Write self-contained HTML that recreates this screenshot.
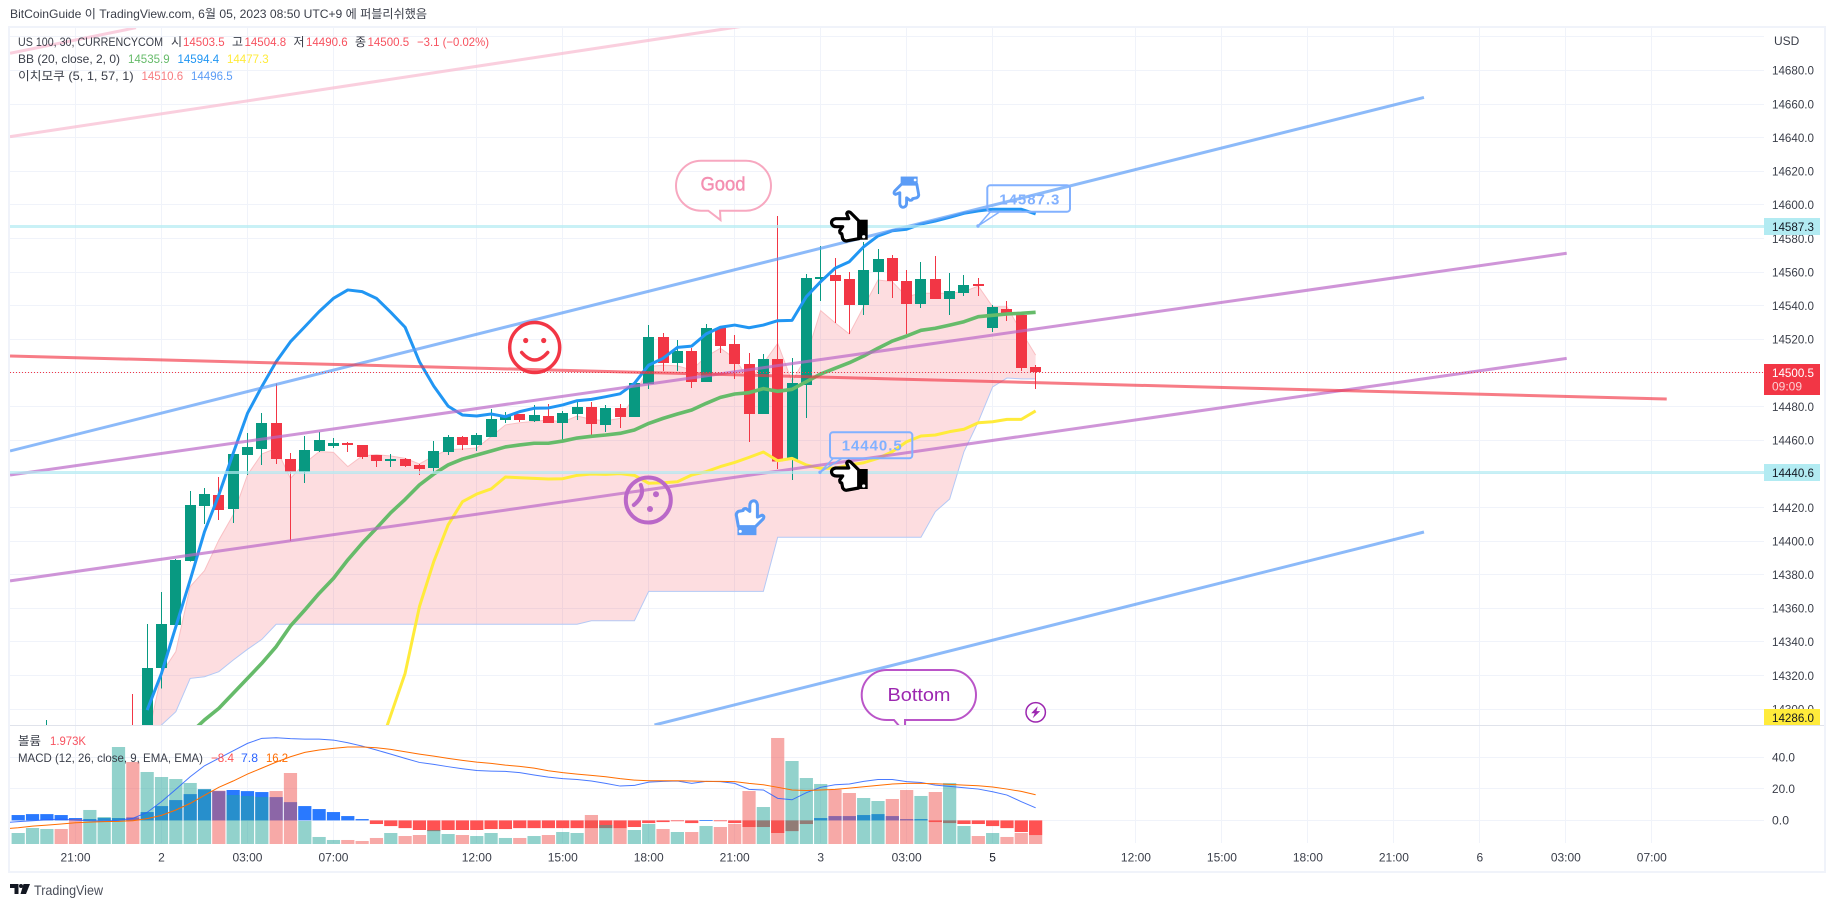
<!DOCTYPE html>
<html lang="ko">
<head>
<meta charset="utf-8">
<title>US 100 30m chart</title>
<style>
html,body{margin:0;padding:0;background:#fff;width:1834px;height:907px;overflow:hidden}
svg{display:block}
text{font-family:"Liberation Sans","Noto Sans CJK KR",sans-serif;font-size:12px;fill:#3a3e49}
</style>
</head>
<body>
<svg id="chart" xmlns="http://www.w3.org/2000/svg" width="1834" height="907" viewBox="0 0 1834 907">
<defs>
<clipPath id="mainClip"><rect x="10" y="28" width="1754" height="697"/></clipPath>
<clipPath id="lowerClip"><rect x="10" y="726" width="1754" height="118"/></clipPath>
</defs>
<rect x="0" y="0" width="1834" height="907" fill="#fff"/>
<text x="10" y="18" textLength="417" lengthAdjust="spacingAndGlyphs">BitCoinGuide 이 TradingView.com, 6월 05, 2023 08:50 UTC+9 에 퍼블리쉬했음</text>
<rect x="9" y="27" width="1816" height="845" fill="none" stroke="#f0f3fa" stroke-width="2"/>
<g id="grid"></g>
<g id="mainLayer" clip-path="url(#mainClip)"></g>
<g id="drawLayer" clip-path="url(#mainClip)"></g>
<g id="annotations" clip-path="url(#mainClip)">
  <path d="M701,160.7 H746 A25,25 0 0 1 746,210.7 H720 L720.5,220 L708.3,210.7 H701 A25,25 0 0 1 701,160.7 Z" fill="none" stroke="#f7a8c0" stroke-width="2"/>
  <text x="723" y="190.5" text-anchor="middle" style="font-size:19px;fill:#f48fb1;stroke:#f48fb1;stroke-width:.4" textLength="45" lengthAdjust="spacingAndGlyphs">Good</text>
  <path d="M886.7,670 H951 A25,25 0 0 1 951,720 H905 V727 H900 L894,720 H886.7 A25,25 0 0 1 886.7,670 Z" fill="none" stroke="#ba55c8" stroke-width="2"/>
  <text x="919" y="701" text-anchor="middle" style="font-size:18px;fill:#9c27b0" textLength="63" lengthAdjust="spacingAndGlyphs">Bottom</text>

  <rect x="987.3" y="185.3" width="82.7" height="26.4" rx="3" fill="none" stroke="#82b1ff" stroke-width="2"/>
  <text x="1029.3" y="204.5" text-anchor="middle" style="font-size:15px;font-weight:700;fill:#82b1ff" textLength="60" lengthAdjust="spacing">14587.3</text>
  <path d="M990,212.3 L978,226 L999,212.3" fill="none" stroke="#82b1ff" stroke-width="1.5"/>
  <circle cx="978" cy="226" r="1.7" fill="#82b1ff"/>

  <rect x="830" y="432.3" width="82.3" height="26" rx="3" fill="none" stroke="#82b1ff" stroke-width="2"/>
  <text x="871.7" y="450.5" text-anchor="middle" style="font-size:15px;font-weight:700;fill:#82b1ff" textLength="60" lengthAdjust="spacing">14440.5</text>
  <path d="M833,458.5 L820,472.3 L841.7,458.5" fill="none" stroke="#82b1ff" stroke-width="1.5"/>
  <circle cx="820" cy="472.3" r="1.7" fill="#82b1ff"/>

  <g transform="translate(830.7,210.7)">
    <path d="M28,10 L20,2 Q17,0 16,3 L18,8 L5,8 Q0,9 1,13 Q2,16 6,16 L12,16 L9,20 Q9,23 11,23 L12,28 Q14,31 17,30 L28,28 Z" fill="#fff" stroke="#000" stroke-width="3.2" stroke-linejoin="round"/>
    <rect x="28" y="9" width="9" height="20" fill="#000"/><circle cx="33" cy="26" r="1.6" fill="#fff"/>
  </g>
  <g transform="translate(830.7,460)">
    <path d="M28,10 L20,2 Q17,0 16,3 L18,8 L5,8 Q0,9 1,13 Q2,16 6,16 L12,16 L9,20 Q9,23 11,23 L12,28 Q14,31 17,30 L28,28 Z" fill="#fff" stroke="#000" stroke-width="3.2" stroke-linejoin="round"/>
    <rect x="28" y="9" width="9" height="20" fill="#000"/><circle cx="33" cy="26" r="1.6" fill="#fff"/>
  </g>
  <g transform="translate(893,208) rotate(-90) scale(.85)">
    <path d="M28,10 L20,2 Q17,0 16,3 L18,8 L5,8 Q0,9 1,13 Q2,16 6,16 L12,16 L9,20 Q9,23 11,23 L12,28 Q14,31 17,30 L28,28 Z" fill="#fff" stroke="#5b9cf6" stroke-width="3.4" stroke-linejoin="round"/>
    <rect x="28" y="9" width="9" height="20" fill="#5b9cf6"/><circle cx="33" cy="26" r="1.6" fill="#fff"/>
  </g>
  <g transform="translate(765,500) rotate(90) scale(.95)">
    <path d="M28,10 L20,2 Q17,0 16,3 L18,8 L5,8 Q0,9 1,13 Q2,16 6,16 L12,16 L9,20 Q9,23 11,23 L12,28 Q14,31 17,30 L28,28 Z" fill="#fff" stroke="#5b9cf6" stroke-width="3.2" stroke-linejoin="round"/>
    <rect x="28" y="9" width="9" height="20" fill="#5b9cf6"/><circle cx="33" cy="26" r="1.6" fill="#fff"/>
  </g>

  <g transform="translate(534.7,347.5)" fill="none" stroke="#f23645" stroke-width="3.5">
    <circle r="25"/><circle cx="-9" cy="-7" r="2.6" fill="#f23645" stroke="none"/><circle cx="9" cy="-7" r="2.6" fill="#f23645" stroke="none"/>
    <path d="M-13,5 Q0,20 13,5" stroke-linecap="round"/>
  </g>
  <g transform="translate(648.3,500)" fill="none" stroke="#ba68c8" stroke-width="4">
    <circle r="22.5"/><circle cx="7.7" cy="-5.7" r="3" fill="#ba68c8" stroke="none"/><circle cx="1.7" cy="9" r="3" fill="#ba68c8" stroke="none"/>
    <path d="M-7.5,-15 Q-3,-4 -14.5,5" stroke-linecap="round"/>
  </g>
  <g transform="translate(1035.7,712.3)">
    <circle r="9.7" fill="none" stroke="#9c27b0" stroke-width="1.5"/>
    <path d="M2,-6 L-4.5,1 L-1,1 L-3,6 L4.5,-1.2 L0.8,-1.2 Z" fill="#9c27b0"/>
  </g>
</g>
<g id="lowerLayer" clip-path="url(#lowerClip)"></g>
<rect x="10" y="725" width="1814" height="1" fill="#e0e3eb"/>
<g id="axisLayer"></g>

<g>
  <text x="18" y="46" textLength="145" lengthAdjust="spacingAndGlyphs">US 100, 30, CURRENCYCOM</text>
  <text x="171" y="46">시</text>
  <text x="183" y="46" textLength="41.6" lengthAdjust="spacingAndGlyphs" style="fill:#f7525f">14503.5</text>
  <text x="232" y="46">고</text>
  <text x="244.5" y="46" textLength="41.6" lengthAdjust="spacingAndGlyphs" style="fill:#f7525f">14504.8</text>
  <text x="293.5" y="46">저</text>
  <text x="306" y="46" textLength="41.6" lengthAdjust="spacingAndGlyphs" style="fill:#f7525f">14490.6</text>
  <text x="355" y="46">종</text>
  <text x="367.5" y="46" textLength="41.6" lengthAdjust="spacingAndGlyphs" style="fill:#f7525f">14500.5</text>
  <text x="417" y="46" textLength="72" lengthAdjust="spacingAndGlyphs" style="fill:#f7525f">−3.1 (−0.02%)</text>
  <text x="18" y="63" textLength="102" lengthAdjust="spacingAndGlyphs">BB (20, close, 2, 0)</text>
  <text x="128" y="63" textLength="41.6" lengthAdjust="spacingAndGlyphs" style="fill:#66bb6a">14535.9</text>
  <text x="177.5" y="63" textLength="41.6" lengthAdjust="spacingAndGlyphs" style="fill:#2196f3">14594.4</text>
  <text x="227" y="63" textLength="41.6" lengthAdjust="spacingAndGlyphs" style="fill:#ffeb3b">14477.3</text>
  <text x="18" y="80" textLength="115.6" lengthAdjust="spacingAndGlyphs">이치모쿠 (5, 1, 57, 1)</text>
  <text x="141.5" y="80" textLength="41.6" lengthAdjust="spacingAndGlyphs" style="fill:#f77c80">14510.6</text>
  <text x="191" y="80" textLength="41.6" lengthAdjust="spacingAndGlyphs" style="fill:#5b9cf6">14496.5</text>
</g>
<g>
  <text x="18" y="745" textLength="23" lengthAdjust="spacingAndGlyphs">볼륨</text>
  <text x="50" y="745" textLength="36" lengthAdjust="spacingAndGlyphs" style="fill:#f7525f">1.973K</text>
  <text x="18" y="762" textLength="185" lengthAdjust="spacingAndGlyphs">MACD (12, 26, close, 9, EMA, EMA)</text>
  <text x="211" y="762" textLength="23" lengthAdjust="spacingAndGlyphs" style="fill:#ff5252">−8.4</text>
  <text x="241" y="762" textLength="17" lengthAdjust="spacingAndGlyphs" style="fill:#2962ff">7.8</text>
  <text x="266" y="762" textLength="22" lengthAdjust="spacingAndGlyphs" style="fill:#ff6d00">16.2</text>
</g>
<g>
  <path d="M10,884 H18.5 V894 H14.5 V888 H10 Z M20.5,894 L23.5,884 H30 L26,894 Z" fill="#131722"/>
  <circle cx="21" cy="886" r="2" fill="#131722"/>
  <text x="34" y="895" style="font-size:14px;fill:#4a4e59" textLength="69" lengthAdjust="spacingAndGlyphs">TradingView</text>
</g>
</svg>
<script>
// Bar index of first value in each series below
const firstBar = -10;
const lastBar = 61;
const opens = [14255,14265,14275,14285,14275,14270,14280,14255,14288,14270,14324.5,14350.1,14388.1,14420.9,14427.4,14419.1,14451.2,14454.8,14470.2,14448.8,14441.1,14453.6,14456.6,14458.3,14457.2,14451.2,14447.6,14448.8,14445.3,14443.5,14453.0,14461.9,14457.2,14461.9,14472.0,14475.6,14471.4,14474.4,14470.2,14475.6,14479.8,14469.1,14479.2,14473.8,14493.4,14521.4,14505.9,14513.1,14494.6,14526.8,14517.2,14505.3,14475.6,14508.3,14448.2,14492.8,14555.9,14558.3,14555.9,14540.4,14560.1,14568.4,14554.7,14541.0,14555.9,14544.0,14547.6,14552.9,14526.8,14538.0,14534.5,14503.5];
const highs = [14270,14280,14293.6,14289,14282,14285,14288,14288,14309,14350.7,14369.7,14389.3,14429.8,14431.6,14438.1,14451.8,14464.3,14476.2,14493.8,14452.4,14462.5,14464.9,14461.3,14458.9,14457.2,14451.2,14451.8,14449.4,14445.9,14459.5,14463.1,14462.5,14464.3,14478.6,14476.8,14475.6,14481.0,14481.5,14477.4,14482.7,14482.7,14481.0,14481.5,14494.0,14528.5,14523.8,14519.6,14514.9,14529.1,14527.9,14522.6,14511.9,14511.3,14593.4,14508.9,14558.9,14575.5,14568.4,14560.1,14577.9,14573.8,14570.2,14561.3,14566.0,14569.6,14559.5,14558.3,14556.5,14540.4,14542.8,14536.3,14504.8];
const lows = [14250,14260,14270,14270,14265,14268,14275,14250,14265,14265,14312.2,14350,14388,14410.2,14412.5,14410.8,14439.3,14445.3,14445.9,14400.1,14434.5,14453.0,14455.4,14453.0,14448.8,14444.1,14444.1,14444.1,14439.3,14441.1,14451.2,14454.2,14453.6,14461.9,14470.2,14470.8,14470.8,14470.2,14460.1,14472.0,14463.1,14464.9,14467.2,14473.8,14490.5,14501.2,14501.2,14491.1,14494.6,14511.9,14496.4,14458.9,14475.6,14442.9,14436.3,14473.2,14542.8,14529.7,14523.2,14534.5,14547.0,14544.6,14523.2,14538.6,14544.0,14534.5,14545.8,14545.8,14524.4,14530.9,14501.2,14490.6];
const closes = [14265,14275,14285,14275,14270,14280,14285,14285,14270,14324.5,14350.7,14388.7,14421.5,14428.0,14418.5,14451.8,14456.0,14470.2,14448.8,14441.1,14454.2,14460.1,14458.3,14457.2,14450.0,14447.6,14448.8,14444.7,14442.9,14453.6,14461.9,14457.2,14463.1,14472.6,14474.4,14472.0,14475.0,14470.2,14476.2,14479.8,14469.7,14479.2,14473.8,14494.0,14521.4,14505.9,14513.1,14494.6,14526.8,14516.0,14505.3,14475.6,14508.3,14447.2,14494.0,14556.5,14557.1,14554.7,14540.4,14561.3,14567.8,14554.7,14541.0,14555.9,14544.0,14548.8,14552.3,14551.7,14539.2,14535.7,14502.9,14500.5];

// Bollinger bands: bar index of first value, then values
const bbBasisStart = 2;
const bbBasis = [14285.6,14293.6,14300.5,14309.4,14318.3,14327.3,14337.2,14349.5,14359.0,14368.9,14377.8,14388.8,14398.7,14407.6,14416.9,14424.8,14433.4,14439.9,14445.3,14448.8,14451.2,14453.6,14456.0,14457.2,14458.2,14458.2,14459.5,14461.3,14462.3,14463.1,14464.1,14466.1,14470.0,14473.0,14475.6,14478.0,14481.9,14485.5,14487.5,14488.3,14490.7,14489.1,14490.3,14494.8,14499.4,14502.8,14506.1,14510.1,14514.7,14519.0,14522.0,14525.4,14526.6,14528.5,14530.5,14533.5,14534.3,14535.1,14535.5,14536.1];
const bbUpperStart = -1;
const bbUpper = [14299.5,14321.3,14349.1,14376.8,14405.6,14427.4,14452.2,14476.0,14491.9,14506.7,14518.6,14527.5,14536.5,14544.4,14549.4,14548.4,14544.4,14536.1,14527.2,14506.7,14492.2,14480.3,14475.0,14474.4,14475.6,14474.0,14477.0,14479.0,14479.2,14481.0,14483.5,14484.3,14485.9,14487.6,14493.8,14504.7,14508.7,14515.2,14516.0,14523.2,14527.2,14528.5,14526.9,14528.5,14531.1,14531.3,14545.4,14554.3,14562.3,14566.2,14575.1,14581.5,14584.6,14585.5,14588.6,14590.4,14592.6,14595.0,14596.4,14597.4,14597.4,14597.4,14594.6];
const bbLowerStart = 15;
const bbLower = [14271.8,14296.5,14321.3,14361.0,14387.8,14409.6,14423.4,14428.0,14431.0,14438.1,14437.7,14437.3,14436.9,14437.1,14439.1,14439.9,14439.7,14440.1,14439.1,14434.4,14434.7,14435.3,14439.3,14441.3,14444.3,14446.8,14449.8,14453.0,14447.8,14449.2,14445.3,14443.3,14443.3,14445.3,14446.6,14449.2,14453.2,14459.1,14462.5,14463.1,14465.1,14466.5,14470.4,14471.0,14472.4,14472.4,14477.4];

// Ichimoku cloud edges, both start at this bar
const cloudStart = -1;
const cloudUpper = [14280.7,14321.3,14334.2,14372.9,14382.4,14400.6,14415.5,14439.3,14451.8,14455.2,14437.3,14446.3,14453.2,14452.8,14444.3,14450.6,14451.4,14450.6,14449.2,14445.9,14450.6,14454.4,14454.8,14455.4,14462.1,14469.1,14470.4,14471.2,14472.0,14470.8,14474.4,14472.4,14471.6,14473.0,14485.9,14503.8,14504.7,14504.2,14501.8,14509.7,14514.7,14508.7,14495.8,14505.7,14517.6,14494.8,14509.7,14537.1,14529.9,14523.2,14539.4,14555.3,14554.3,14545.4,14547.4,14547.4,14547.4,14548.4,14551.7,14539.4,14539.4,14524.6,14510.6];
const cloudLower = [14280.7,14290.6,14298.5,14318.3,14319.3,14322.3,14329.2,14335.6,14341.5,14350.5,14350.5,14350.5,14350.5,14350.5,14350.5,14350.5,14350.5,14350.5,14350.5,14350.5,14350.5,14350.5,14350.5,14350.5,14350.5,14350.5,14350.5,14350.5,14350.5,14350.5,14350.5,14352.6,14352.6,14352.6,14352.6,14370.1,14370.1,14370.1,14370.1,14370.1,14370.1,14370.1,14370.1,14370.1,14402.3,14402.3,14402.3,14402.3,14402.3,14402.3,14402.3,14402.3,14402.3,14402.3,14402.3,14417.5,14425.0,14453.2,14471.0,14491.7,14497.0,14496.5,14496.5];

// Lower pane values
const volumes = [2.41,3.51,3.29,3.29,5.48,7.46,5.92,21.27,17.98,15.79,14.69,14.25,13.38,12.06,11.70,10.75,10.53,10.31,11.62,15.57,5.04,1.54,0.88,0.88,0.66,1.32,2.41,1.75,1.97,3.07,2.19,1.97,1.75,2.41,1.32,1.32,1.75,1.97,2.63,2.41,6.36,4.17,3.51,3.07,4.39,3.29,2.63,2.63,3.95,3.73,4.39,11.62,8.11,23.25,18.20,14.47,13.16,11.92,11.18,10.09,9.43,9.87,11.84,10.53,11.40,13.38,3.95,1.75,2.41,1.54,2.41,1.973];
const macdHist = [3.4,4.0,4.0,3.4,1.5,0.85,1.5,1.5,1.9,5.3,9.1,12.9,16.7,19.7,18.6,19.3,18.6,18.0,14.8,11.6,9.1,7.2,5.3,2.75,0.85,-2.3,-3.6,-4.9,-6.1,-6.8,-6.1,-6.1,-6.1,-5.5,-5.5,-4.9,-4.9,-4.9,-4.9,-4.9,-4.9,-4.9,-4.9,-4.2,-1.7,-1.06,-0.4,-1.7,0.2,-0.4,-1.7,-4.2,-4.2,-8.0,-6.8,-2.3,1.5,2.75,2.75,3.4,4.0,2.75,0.85,0.85,-1.06,-1.7,-2.3,-2.3,-3.6,-4.9,-7.4,-9.3];
// The two MACD lines begin one bar earlier, running off the left edge of the pane
const macdLinesStart = -11;
const macdLine = [-1.5,-0.8,-0.2,0.4,0.8,0.2,-0.2,-0.4,0,1.3,5.1,11.9,19.7,27.7,34.7,39.4,44.2,48.9,52.1,52.5,51.9,51.6,51.6,51.0,49.3,47.2,44.7,42.1,39.4,36.8,35.6,34.1,32.8,31.7,31.3,31.1,30.3,28.8,27.5,26.5,26.0,25.0,23.5,21.8,22.2,24.3,24.8,25.0,23.5,24.8,24.6,23.5,19.7,19.3,14.0,13.1,17.6,21.0,22.6,23.1,24.8,26.0,26.0,24.6,24.1,22.4,21.6,20.7,19.9,18.2,16.1,11.9,8.0];
const macdSignal = [-5.4,-4.7,-3.6,-3.0,-2.3,-1.5,-1.1,-0.8,-0.6,-0.2,1.1,3.2,6.6,10.8,15.9,21.0,25.0,29.4,33.2,37.0,40.4,43.2,44.7,45.7,46.6,46.6,46.1,45.1,43.6,42.1,40.8,39.4,38.1,37.0,36.2,35.1,34.3,33.2,31.5,30.3,29.4,28.6,27.7,26.5,25.6,25.2,25.2,25.2,25.0,24.8,24.8,24.6,23.5,22.6,21.0,19.3,19.0,19.3,19.7,20.5,21.4,22.2,23.1,23.5,23.5,23.3,22.9,22.4,22.0,21.2,19.9,18.4,16.3];

// Axis tick values and labels
const priceTicks = [14700,14680,14660,14640,14620,14600,14580,14560,14540,14520,14500,14480,14460,14440,14420,14400,14380,14360,14340,14320,14300];
const macdTicks = [40,20,0];
const timeBars = [-6,0,6,12,22,28,34,40,46,52,58,68,74,80,86,92,98,104];
const timeLabels = ['21:00','2','03:00','07:00','12:00','15:00','18:00','21:00','3','03:00','5','12:00','15:00','18:00','21:00','6','03:00','07:00'];

// Drawn trend lines as [startBar, startPrice, endBar, endPrice]
const channelUpperLine = [-10.57,14453.6,88.1,14663.9];
const channelLowerLine = [34.4,14290.6,88.1,14405.4];
const purpleUpperLine = [-10.57,14439.3,98.06,14571.2];
const purpleLowerLine = [-10.57,14376.3,98.06,14508.7];
const redLine = [-10.57,14510.1,105.04,14484.5];
const pinkLowerLine = [-10.57,14640.6,40.65,14706.4];
const pinkUpperLine = [-10.57,14690.2,-1.78,14705.4];
const levelHigh = 14587.3;
const levelLow = 14440.6;
const lastPrice = 14500.5;
const lowerBandPrice = 14286.0;

// Axis functions
const xOf = i => 161.5 + 14.33 * i;
const yOf = p => 70.4 + (14680 - p) * 1.681;
const yMacd = v => 820.4 - v * 1.575;
const yVol = v => 844 - v * 4.56;

const NS = 'http://www.w3.org/2000/svg';
const mk = (tag, attrs, parent) => {
  const el = document.createElementNS(NS, tag);
  for (const k in attrs) el.setAttribute(k, attrs[k]);
  parent.appendChild(el);
  return el;
};
const grid = document.getElementById('grid');
const mainLayer = document.getElementById('mainLayer');
const drawLayer = document.getElementById('drawLayer');
const lowerLayer = document.getElementById('lowerLayer');
const axisLayer = document.getElementById('axisLayer');
const GRID = '#f0f3fa';

// Grid
timeBars.forEach(b => {
  const el = mk('rect', {x: Math.floor(xOf(b)), y: 28, width: 1, height: 815, fill: GRID}, grid);
  
  
});
priceTicks.forEach(p => {
  const el = mk('rect', {x: 10, y: Math.floor(yOf(p)), width: 1754, height: 1, fill: GRID}, grid);
  
  
});
macdTicks.forEach(v => {
  const el = mk('rect', {x: 10, y: Math.floor(yMacd(v)), width: 1754, height: 1, fill: GRID}, grid);
  
  
});

// Series path helper
const pathFrom = (start, vals, yFn) => vals.map((v, k) => (k ? 'L' : 'M') + xOf(start + k).toFixed(2) + ',' + yFn(v).toFixed(2)).join(' ');

// Ichimoku cloud
const lowerReversed = cloudLower.map((v, k) => [cloudStart + k, v]).reverse();
const cloudD = pathFrom(cloudStart, cloudUpper, yOf) + ' ' + lowerReversed.map(q => 'L' + xOf(q[0]).toFixed(2) + ',' + yOf(q[1]).toFixed(2)).join(' ') + ' Z';
const cloudFill = mk('path', {d: cloudD, fill: 'rgba(242,54,69,.17)', stroke: 'none'}, mainLayer);


const cloudA = mk('path', {d: pathFrom(cloudStart, cloudUpper, yOf), fill: 'none', stroke: '#f9bfc3', 'stroke-width': 1}, mainLayer);


const cloudB = mk('path', {d: pathFrom(cloudStart, cloudLower, yOf), fill: 'none', stroke: '#b4c9f5', 'stroke-width': 1}, mainLayer);



// Candles
opens.forEach((o, k) => {
  const c = closes[k], h = highs[k], l = lows[k];
  const cx = Math.floor(xOf(firstBar + k));
  const col = c >= o ? '#089981' : '#f23645';
  const g = mk('g', {'shape-rendering': 'crispEdges'}, mainLayer);
  
  
  const wick = mk('rect', {x: cx, y: yOf(h), width: 1, height: Math.max(1, yOf(l) - yOf(h)), fill: col}, g);
  
  
  const top = yOf(Math.max(o, c)), bot = yOf(Math.min(o, c));
  const body = mk('rect', {x: cx - 5, y: top, width: 11, height: Math.max(1.5, bot - top), fill: col}, g);
  
  
});

// Bollinger bands
const bbLowerPath = mk('path', {d: pathFrom(bbLowerStart, bbLower, yOf), fill: 'none', stroke: '#ffeb3b', 'stroke-width': 3, 'stroke-linejoin': 'round'}, mainLayer);


const bbUpperPath = mk('path', {d: pathFrom(bbUpperStart, bbUpper, yOf), fill: 'none', stroke: '#2196f3', 'stroke-width': 3, 'stroke-linejoin': 'round'}, mainLayer);


const bbBasisPath = mk('path', {d: pathFrom(bbBasisStart, bbBasis, yOf), fill: 'none', stroke: '#66bb6a', 'stroke-width': 3.6, 'stroke-linejoin': 'round'}, mainLayer);



// Drawings
const addTrend = (a, color, width, name) => {
  const el = mk('line', {x1: xOf(a[0]), y1: yOf(a[1]), x2: xOf(a[2]), y2: yOf(a[3]), stroke: color, 'stroke-width': width}, drawLayer);
  
  
};
addTrend(pinkLowerLine, 'rgba(248,187,208,.7)', 3, 'pink-channel-lower');
addTrend(pinkUpperLine, 'rgba(248,187,208,.7)', 3, 'pink-channel-upper');
addTrend(channelUpperLine, 'rgba(91,156,246,.7)', 3, 'blue-channel-upper');
addTrend(channelLowerLine, 'rgba(91,156,246,.7)', 3, 'blue-channel-lower');
addTrend(purpleUpperLine, 'rgba(186,104,200,.7)', 3, 'purple-channel-upper');
addTrend(purpleLowerLine, 'rgba(186,104,200,.7)', 3, 'purple-channel-lower');
addTrend(redLine, 'rgba(242,54,69,.65)', 3, 'red-trend-line');

const addLevel = (p, name) => {
  const el = mk('rect', {x: 10, y: Math.floor(yOf(p)) - 1, width: 1754, height: 3, fill: 'rgba(178,235,242,.7)'}, drawLayer);
  
  
};
addLevel(levelHigh, 'level-line-14587');
addLevel(levelLow, 'level-line-14440');

const lastLine = mk('line', {x1: 10, x2: 1764, y1: Math.floor(yOf(lastPrice)) + 0.5, y2: Math.floor(yOf(lastPrice)) + 0.5, stroke: '#f23645', 'stroke-width': 1, 'stroke-dasharray': '1 2'}, drawLayer);



// Lower pane: histogram under volume
macdHist.forEach((v, k) => {
  const x = xOf(firstBar + k) - 6.6;
  const y0 = yMacd(0), y1 = yMacd(v);
  const el = mk('rect', {x: x, y: Math.min(y0, y1), width: 13.2, height: Math.max(0.8, Math.abs(y1 - y0)), fill: v >= 0 ? '#2979ff' : '#ff5252'}, lowerLayer);
  
  
});
volumes.forEach((v, k) => {
  const x = xOf(firstBar + k) - 6.6;
  const el = mk('rect', {x: x, y: yVol(v), width: 13.2, height: 844 - yVol(v), fill: closes[k] >= opens[k] ? 'rgba(38,166,154,.5)' : 'rgba(239,83,80,.5)'}, lowerLayer);
  
  
});
const macdPath = mk('path', {d: pathFrom(macdLinesStart, macdLine, yMacd), fill: 'none', stroke: '#2962ff', 'stroke-width': 1, opacity: .85}, lowerLayer);


const signalPath = mk('path', {d: pathFrom(macdLinesStart, macdSignal, yMacd), fill: 'none', stroke: '#ff6d00', 'stroke-width': 1}, lowerLayer);



// Axes
const usd = mk('text', {x: 1774, y: 45}, axisLayer);
usd.textContent = 'USD';


priceTicks.slice(1).forEach(p => {
  const t = mk('text', {x: 1772, y: yOf(p) + 4.3, textLength: 42, lengthAdjust: 'spacingAndGlyphs'}, axisLayer);
  t.textContent = p.toFixed(1);
  
  
});
macdTicks.forEach(v => {
  const t = mk('text', {x: 1772, y: yMacd(v) + 4, textLength: v ? 23 : 17, lengthAdjust: 'spacingAndGlyphs'}, axisLayer);
  t.textContent = v.toFixed(1);
  
  
});
timeLabels.forEach((s, k) => {
  const t = mk('text', {x: xOf(timeBars[k]), y: 861.5, 'text-anchor': 'middle'}, axisLayer);
  t.textContent = s;
  
  
  if (s === '5') t.setAttribute('style', 'fill:#131722');
});

// Price axis tags
const addTag = (p, y, h, bg, fg, name) => {
  const r = mk('rect', {x: 1764, y: y, width: 56, height: h, fill: bg}, axisLayer);
  
  
  const t = mk('text', {x: 1772, y: y + 13, textLength: 42, lengthAdjust: 'spacingAndGlyphs', style: 'fill:' + fg}, axisLayer);
  t.textContent = p.toFixed(1);
  
  
};
addTag(levelHigh, Math.floor(yOf(levelHigh)) - 8, 17, '#b2ebf2', '#131722', 'level-14587');
addTag(levelLow, Math.floor(yOf(levelLow)) - 8, 17, '#b2ebf2', '#131722', 'level-14440');
addTag(lowerBandPrice, 709, 16, '#ffeb3b', '#131722', 'bb-lower-price');
addTag(lastPrice, 364, 31, '#f23645', '#ffffff', 'last-price');
const countdown = mk('text', {x: 1772, y: 390.5, textLength: 30, lengthAdjust: 'spacingAndGlyphs', style: 'fill:#fbd0d4'}, axisLayer);
countdown.textContent = '09:09';


</script>
</body>
</html>
